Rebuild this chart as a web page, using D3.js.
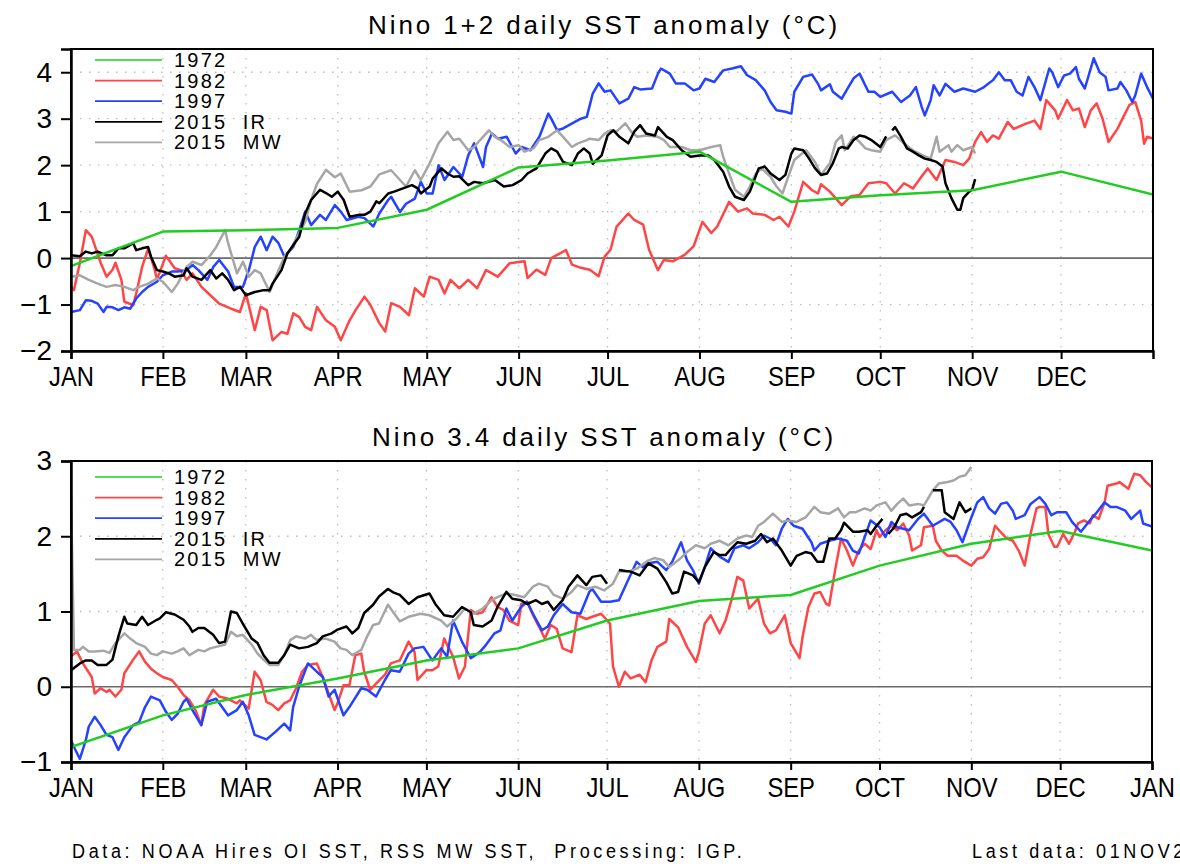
<!DOCTYPE html>
<html lang="en">
<head>
<meta charset="UTF-8">
<title>Nino daily SST anomaly</title>
<style>
  body { margin: 0; background: #fff; }
  svg text { font-family: "Liberation Sans", Arial, sans-serif; fill: #000; }
</style>
</head>
<body>
<script src="https://d3js.org/d3.v7.min.js"></script>
<script>
// ---- data (day of year, anomaly degC); null = gap in record ----
var monthNames  = ['JAN','FEB','MAR','APR','MAY','JUN','JUL','AUG','SEP','OCT','NOV','DEC','JAN'];
var monthStarts = [0, 31, 59, 90, 120, 151, 181, 212, 243, 273, 304, 334, 365];
var seriesNames = ['1972', '1982', '1997', '2015  IR', '2015  MW'];
var seriesColors = ['#22cc22', '#ff4545', '#2442ff', '#000000', '#a6a6a6'];
var drawOrder = [1, 2, 4, 3, 0];

var n12_1972 = [[0,-0.17],[31,0.57],[59,0.6],[90,0.65],[120,1.04],[151,1.95],[181,2.1],[212,2.29],[243,1.21],[273,1.35],[304,1.46],[334,1.86],[365,1.37]];
var n12_1982 = [[0,-0.62],[1,-0.69],[3,-0.1],[5,0.6],[7,0.46],[10,-0.1],[12,-0.4],[14,-0.25],[15,-0.1],[17,-0.47],[18,-0.94],[21,-1.01],[22,-0.76],[24,-0.19],[26,0.2],[28,-0.2],[29,-0.45],[30,-0.3],[32,0.05],[35,-0.22],[37,-0.26],[39,-0.47],[41,-0.33],[44,-0.62],[47,-0.8],[50,-0.98],[54,-1.09],[57,-1.16],[59,-0.76],[62,-1.55],[64,-1.05],[66,-1.12],[68,-1.77],[71,-1.59],[73,-1.63],[75,-1.19],[77,-1.27],[79,-1.48],[81,-1.55],[83,-1.05],[86,-1.34],[89,-1.48],[91,-1.77],[94,-1.34],[96,-1.12],[99,-0.83],[101,-1.01],[104,-1.4],[106,-1.58],[108,-0.97],[111,-1.05],[114,-1.23],[116,-0.65],[119,-0.83],[121,-0.4],[124,-0.47],[126,-0.76],[128,-0.47],[131,-0.65],[134,-0.47],[137,-0.65],[140,-0.26],[144,-0.4],[148,-0.11],[153,-0.07],[154,-0.43],[157,-0.25],[160,-0.36],[162,0],[167,0.17],[169,-0.14],[172,-0.21],[175,-0.25],[178,-0.39],[180,0.03],[182,0.18],[184,0.67],[188,0.96],[190,0.82],[193,0.72],[195,0.18],[198,-0.26],[200,-0.04],[203,-0.07],[207,0.07],[210,0.25],[213,0.78],[216,0.54],[218,0.68],[222,1.21],[225,1.0],[228,1.07],[230,0.96],[234,0.93],[237,0.82],[239,0.89],[242,0.68],[244,1.0],[247,1.64],[250,1.46],[252,1.39],[253,1.59],[256,1.43],[260,1.14],[263,1.33],[266,1.36],[269,1.61],[273,1.64],[275,1.61],[278,1.39],[281,1.61],[284,1.5],[287,1.76],[289,1.93],[292,1.68],[295,2.11],[298,2.07],[301,2.0],[303,2.14],[305,2.5],[307,2.71],[309,2.5],[311,2.64],[313,2.57],[316,2.93],[318,2.78],[322,2.89],[325,2.96],[327,2.78],[329,3.4],[332,3.18],[333,3.0],[336,3.4],[338,3.18],[340,3.22],[342,2.82],[344,3.18],[346,3.33],[348,3.0],[350,2.5],[353,2.78],[355,3.04],[357,3.29],[359,3.36],[361,2.96],[362,2.46],[363,2.61],[365,2.57]];
var n12_1997 = [[0,-1.16],[3,-1.12],[5,-0.91],[7,-0.92],[9,-0.98],[11,-1.16],[12,-1.05],[14,-1.06],[16,-1.12],[18,-1.06],[20,-1.09],[22,-0.87],[24,-0.73],[26,-0.62],[29,-0.51],[31,-0.37],[34,-0.29],[36,-0.29],[39,-0.26],[41,-0.15],[43,-0.26],[46,-0.47],[48,-0.19],[50,-0.04],[53,-0.29],[55,-0.62],[58,-0.62],[60,-0.26],[62,0.24],[64,0.46],[66,0.17],[68,0.46],[70,0.32],[72,0.03],[75,0.24],[77,0.6],[79,1.0],[81,0.71],[84,0.93],[86,0.82],[89,1.14],[91,1.0],[93,0.82],[97,0.89],[99,0.86],[102,0.68],[104,0.96],[107,1.25],[108,1.32],[111,0.99],[113,1.17],[116,1.28],[118,1.64],[120,1.39],[122,1.39],[124,2.0],[126,1.68],[129,1.96],[132,1.75],[134,2.21],[136,2.47],[139,1.96],[140,2.39],[142,2.68],[144,2.57],[147,2.61],[150,2.25],[152,2.39],[155,2.32],[158,2.61],[161,3.11],[162,3.0],[164,2.75],[166,2.79],[170,2.93],[172,3.0],[174,3.04],[176,3.54],[178,3.76],[180,3.58],[182,3.61],[185,3.33],[188,3.43],[190,3.68],[192,3.63],[196,3.65],[198,3.97],[199,4.08],[202,3.97],[204,3.76],[207,3.76],[210,3.61],[212,3.65],[214,3.86],[217,3.79],[220,4.04],[223,4.08],[226,4.13],[228,3.94],[231,3.83],[234,3.61],[236,3.36],[238,3.18],[241,3.15],[243,3.11],[244,3.58],[247,3.9],[250,3.95],[252,3.75],[253,3.61],[256,3.74],[257,3.58],[260,3.43],[262,3.65],[264,3.87],[266,3.97],[269,3.58],[271,3.58],[273,3.47],[277,3.58],[280,3.36],[283,3.5],[285,3.68],[287,3.25],[288,3.07],[290,3.4],[291,3.72],[293,3.5],[295,3.75],[298,3.58],[301,3.65],[305,3.58],[308,3.68],[311,3.83],[313,4.0],[315,3.83],[317,3.83],[319,3.58],[321,3.5],[323,3.9],[325,3.68],[327,3.4],[330,4.08],[331,4.0],[333,3.68],[335,3.93],[337,3.97],[339,4.11],[340,3.86],[342,3.65],[344,4.08],[345,4.3],[347,4.0],[349,3.9],[350,3.61],[353,3.65],[354,3.79],[356,3.61],[358,3.36],[359,3.5],[361,3.97],[363,3.68],[365,3.43]];
var n12_2015ir = [[0,0.06],[3,0.04],[5,0.14],[7,0.1],[9,0.14],[12,0.06],[14,0.06],[16,0.21],[18,0.21],[21,0.32],[22,0.17],[24,0.21],[26,0.24],[27,0.03],[29,-0.26],[31,-0.29],[33,-0.33],[35,-0.4],[38,-0.37],[39,-0.22],[41,-0.4],[44,-0.47],[47,-0.26],[49,-0.44],[51,-0.33],[53,-0.47],[55,-0.69],[57,-0.62],[59,-0.8],[62,-0.73],[65,-0.69],[67,-0.69],[68,-0.55],[71,-0.26],[73,0.1],[75,0.28],[77,0.46],[79,0.96],[81,1.25],[84,1.47],[86,1.4],[88,1.32],[90,1.43],[92,1.25],[94,0.89],[97,0.93],[99,0.93],[101,1.0],[103,1.22],[104,1.18],[107,1.39],[109,1.43],[112,1.5],[115,1.57],[117,1.5],[118,1.39],[121,1.54],[122,1.71],[125,1.93],[127,1.82],[129,1.75],[131,1.76],[134,1.57],[136,1.64],[139,1.61],[143,1.68],[146,1.54],[149,1.57],[152,1.68],[154,1.82],[157,1.93],[160,2.25],[162,2.36],[164,2.29],[166,2.07],[169,2.0],[171,2.25],[173,2.36],[175,2.25],[176,2.03],[179,2.21],[181,2.64],[183,2.75],[185,2.61],[188,2.47],[190,2.72],[192,2.86],[194,2.68],[197,2.64],[198,2.82],[201,2.61],[203,2.54],[206,2.32],[209,2.18],[212,2.21],[215,2.21],[217,2.11],[220,1.86],[222,1.54],[224,1.32],[227,1.25],[229,1.43],[232,1.93],[234,1.97],[236,1.82],[239,1.68],[241,1.79],[243,2.25],[244,2.36],[247,2.32],[249,2.14],[251,1.93],[253,1.79],[255,1.82],[257,2.04],[259,2.36],[260,2.39],[262,2.36],[264,2.54],[266,2.64],[268,2.61],[270,2.54],[273,2.39],[275,2.62],null,[277,2.75],[278,2.82],[280,2.61],[282,2.36],[284,2.29],[286,2.21],[288,2.14],[290,2.11],[292,2.07],[294,1.97],[295,1.61],[297,1.29],[299,1.04],[300,1.04],[301,1.29],[303,1.43],[304,1.47],[305,1.7]];
var n12_2015mw = [[0,-0.4],[3,-0.37],[6,-0.47],[9,-0.55],[12,-0.62],[15,-0.58],[18,-0.62],[21,-0.69],[23,-0.62],[26,-0.55],[29,-0.44],[31,-0.51],[34,-0.73],[36,-0.55],[39,-0.19],[41,-0.08],[44,-0.15],[47,0.06],[49,0.24],[52,0.6],[53,0.32],[56,-0.33],[58,-0.08],[60,-0.4],[62,-0.26],[64,-0.33],[67,-0.73],[70,-0.26],[72,0.03],[74,0.17],[76,0.42],[79,0.78],[81,1.25],[83,1.6],[86,1.9],[89,1.74],[91,1.82],[94,1.43],[98,1.46],[101,1.54],[104,1.8],[108,1.89],[110,1.75],[113,1.54],[116,1.89],[118,1.68],[121,2.04],[124,2.47],[127,2.72],[129,2.54],[131,2.57],[134,2.32],[136,2.39],[138,2.54],[141,2.75],[143,2.61],[145,2.54],[148,2.39],[151,2.43],[153,2.29],[156,2.36],[158,2.54],[161,2.61],[164,2.75],[166,2.61],[169,2.39],[171,2.47],[174,2.54],[175,2.57],[178,2.54],[180,2.68],[182,2.75],[184,2.72],[187,2.9],[189,2.72],[191,2.61],[194,2.64],[198,2.61],[200,2.54],[202,2.39],[206,2.39],[209,2.32],[212,2.32],[216,2.39],[219,2.43],[220,2.18],[222,1.82],[224,1.47],[227,1.32],[229,1.54],[231,1.82],[233,1.93],[236,1.75],[238,1.54],[240,1.39],[242,1.76],[244,2.11],[246,2.22],[248,2.32],[251,2.07],[253,1.79],[256,2.04],[258,2.5],[260,2.64],[261,2.32],[264,2.61],[266,2.5],[268,2.36],[270,2.32],[273,2.29],[275,2.54],[278,2.64],[281,2.47],[284,2.32],[287,2.22],[290,2.14],[292,2.61],[293,2.29],[296,2.43],[297,2.29],[299,2.43],[301,2.32],[304,2.39],[305,2.25]];

var n34_1972 = [[0,-0.8],[31,-0.38],[59,-0.11],[90,0.11],[120,0.35],[151,0.51],[181,0.88],[212,1.14],[243,1.22],[273,1.61],[304,1.9],[334,2.07],[365,1.81]];
var n34_1982 = [[0,0.4],[2,0.47],[4,0.31],[7,0.13],[8,-0.09],[10,-0.02],[12,-0.07],[13,-0.04],[15,-0.13],[17,-0.04],[18,0.18],[21,0.36],[23,0.47],[25,0.33],[27,0.24],[29,0.18],[31,0.13],[34,0.09],[36,0],[38,-0.11],[40,-0.18],[42,-0.31],[44,-0.51],[45,-0.24],[48,-0.04],[50,-0.13],[53,-0.16],[56,-0.22],[57,-0.18],[60,-0.29],[62,0.2],[64,0.09],[66,-0.2],[68,-0.24],[70,-0.31],[72,-0.22],[74,-0.18],[76,-0.02],[78,0.2],[80,0.29],[83,0.31],[85,0.13],[87,-0.09],[89,-0.31],[90,-0.22],[92,0.02],[94,0.02],[96,0.42],[98,0.44],[99,0.2],[101,-0.04],[103,0.04],[106,0.16],[108,0.31],[111,0.35],[114,0.6],[116,0.46],[117,0.09],[120,0.22],[122,0.22],[124,0.27],[126,0.64],[129,0.4],[131,0.11],[133,0.27],[135,1.02],[137,0.97],[139,0.99],[142,1.19],[144,1.06],[146,1.02],[148,0.88],[151,0.82],[152,1.1],[154,1.13],[156,0.95],[158,0.8],[160,0.64],[162,0.82],[164,0.77],[166,0.51],[169,0.46],[171,0.95],[174,0.9],[176,0.93],[179,0.97],[182,0.84],[183,0.27],[185,0.0],[187,0.2],[189,0.11],[192,0.16],[194,0.06],[196,0.35],[198,0.53],[201,0.6],[202,0.9],[205,0.79],[208,0.53],[211,0.33],[212,0.46],[214,0.84],[216,0.95],[219,0.71],[221,0.88],[223,1.15],[225,1.46],[227,1.41],[229,1.04],[232,1.17],[234,0.84],[236,0.71],[238,0.75],[241,0.95],[243,0.58],[246,0.38],[247,0.66],[249,1.06],[251,1.24],[253,1.26],[255,1.1],[256,1.08],[258,1.55],[260,1.97],[262,1.81],[264,1.61],[266,1.81],[268,1.9],[270,1.83],[272,2.08],[273,1.99],[275,2.08],[277,2.14],[279,2.08],[281,2.17],[283,2.01],[284,1.81],[287,1.88],[288,2.12],[291,2.14],[292,1.94],[294,1.81],[296,1.74],[299,1.74],[301,1.68],[304,1.61],[306,1.7],[308,1.72],[310,1.83],[312,2.14],[314,2.05],[316,1.97],[318,1.94],[320,1.81],[322,1.61],[324,2.03],[326,2.37],[327,2.39],[329,2.39],[330,2.03],[332,1.86],[333,1.86],[335,2.03],[337,1.9],[339,2.06],[340,2.17],[342,2.21],[344,2.17],[345,2.28],[347,2.23],[349,2.45],[350,2.67],[353,2.7],[354,2.72],[357,2.63],[359,2.83],[361,2.81],[363,2.72],[365,2.65]];
var n34_1997 = [[0,-0.71],[1,-0.8],[3,-0.96],[5,-0.71],[6,-0.53],[8,-0.4],[10,-0.51],[12,-0.64],[14,-0.67],[16,-0.84],[18,-0.67],[21,-0.51],[23,-0.47],[25,-0.27],[27,-0.13],[30,-0.18],[32,-0.33],[34,-0.44],[36,-0.36],[38,-0.2],[39,-0.16],[41,-0.31],[44,-0.51],[46,-0.2],[49,-0.16],[51,-0.27],[53,-0.38],[56,-0.31],[58,-0.2],[60,-0.38],[62,-0.64],[66,-0.7],[69,-0.6],[72,-0.49],[74,-0.58],[75,-0.27],[77,0],[80,0.31],[83,0.2],[85,0.13],[87,-0.13],[89,-0.04],[92,-0.38],[94,-0.27],[98,-0.02],[100,-0.04],[103,-0.13],[106,0.09],[108,0.22],[111,0.2],[114,0.44],[116,0.51],[119,0.53],[122,0.35],[125,0.51],[127,0.4],[129,0.88],[132,0.6],[135,0.38],[138,0.46],[140,0.55],[143,0.71],[145,0.75],[147,1.04],[149,0.88],[152,1.06],[154,1.13],[156,0.97],[159,0.75],[161,0.8],[163,0.95],[166,1.1],[169,0.99],[172,0.97],[175,1.26],[176,1.3],[179,1.13],[182,1.13],[185,1.15],[188,1.41],[191,1.66],[193,1.59],[195,1.64],[198,1.66],[201,1.55],[203,1.66],[206,1.92],[208,1.68],[210,1.55],[212,1.37],[214,1.59],[216,1.84],[219,1.73],[222,1.66],[224,1.84],[227,1.88],[229,1.84],[232,1.92],[234,2.01],[236,1.97],[238,1.88],[240,2.1],[242,2.23],[244,2.14],[247,2.1],[250,1.92],[251,1.81],[253,1.9],[256,1.94],[259,1.97],[262,1.94],[264,1.81],[266,1.77],[268,1.99],[270,2.21],[273,2.12],[275,1.99],[277,2.19],[279,2.12],[281,2.1],[283,2.08],[286,2.23],[288,2.3],[291,2.14],[295,2.23],[297,2.19],[299,2.08],[301,1.92],[304,2.25],[306,2.45],[308,2.52],[310,2.37],[312,2.3],[314,2.43],[316,2.45],[318,2.34],[319,2.23],[322,2.28],[324,2.43],[327,2.52],[329,2.43],[331,2.28],[333,2.32],[336,2.32],[338,2.19],[341,2.06],[344,2.21],[346,2.3],[349,2.45],[351,2.39],[353,2.39],[356,2.34],[358,2.23],[361,2.34],[362,2.17],[365,2.13]];
var n34_2015ir = [[0,0.22],[3,0.31],[5,0.35],[7,0.35],[9,0.29],[12,0.29],[14,0.36],[16,0.67],[18,0.93],[19,0.84],[22,0.82],[24,0.93],[26,0.82],[29,0.89],[30,0.91],[32,0.99],[35,0.96],[38,0.89],[40,0.8],[41,0.73],[43,0.78],[45,0.78],[48,0.69],[50,0.58],[52,0.6],[54,1.0],[56,0.98],[58,0.84],[61,0.64],[63,0.58],[65,0.42],[67,0.32],[70,0.32],[72,0.42],[74,0.56],[77,0.51],[80,0.53],[83,0.58],[85,0.67],[88,0.71],[90,0.76],[93,0.8],[95,0.71],[97,0.78],[99,0.98],[102,1.09],[104,1.2],[107,1.3],[109,1.25],[111,1.22],[114,1.1],[117,1.19],[121,1.24],[123,1.1],[126,0.95],[129,0.93],[132,1.06],[135,0.99],[136,0.82],[139,0.8],[142,0.88],[144,1.06],[147,1.26],[149,1.17],[152,1.15],[154,1.1],[157,1.15],[159,1.1],[161,1.13],[163,1.02],[166,1.15],[168,1.33],[171,1.48],[174,1.35],[176,1.46],[179,1.48],[181,1.37],null,[185,1.55],[189,1.53],[192,1.48],[195,1.64],[198,1.57],[201,1.39],[203,1.24],[205,1.26],[207,1.53],[210,1.48],[212,1.39],[214,1.59],[217,1.79],[219,1.75],[221,1.75],[223,1.84],[225,1.92],[228,1.9],[231,1.94],[233,2.03],[235,1.92],[237,1.97],[240,1.81],[243,1.61],[245,1.74],[248,1.79],[250,1.77],[252,1.66],[254,1.66],[256,1.97],[258,1.97],[260,2.08],[261,2.18],[264,2.06],[266,2.06],[269,2.08],[270,2.03],[272,2.14],[274,2.23],null,[276,2.03],[278,2.12],[280,2.28],[282,2.3],[284,2.25],[287,2.32],[288,2.39],null,[291,2.61],[294,2.61],[295,2.32],[298,2.23],[300,2.45],[302,2.32],[304,2.37]];
var n34_2015mw = [[0,2.55],[1,0.49],[3,0.49],[4,0.53],[6,0.47],[8,0.47],[11,0.48],[13,0.45],[15,0.58],[18,0.71],[20,0.64],[22,0.58],[25,0.53],[27,0.44],[29,0.42],[31,0.47],[34,0.44],[36,0.47],[38,0.51],[40,0.42],[43,0.49],[45,0.47],[47,0.51],[49,0.53],[52,0.56],[54,0.73],[56,0.67],[58,0.69],[61,0.56],[63,0.44],[65,0.36],[67,0.29],[70,0.29],[72,0.42],[74,0.62],[76,0.67],[79,0.64],[81,0.69],[83,0.62],[86,0.64],[89,0.6],[91,0.51],[93,0.49],[95,0.42],[98,0.49],[100,0.67],[102,0.82],[104,0.84],[107,1.09],[109,0.98],[111,0.87],[114,0.93],[118,0.97],[121,0.95],[125,0.88],[127,0.8],[130,0.9],[133,1.04],[136,0.97],[139,1.04],[142,1.15],[144,1.19],[147,1.24],[150,1.22],[153,1.19],[156,1.33],[158,1.37],[161,1.33],[163,1.22],[166,1.17],[169,1.26],[171,1.35],[174,1.3],[177,1.33],[180,1.28],[183,1.37],[185,1.53],[188,1.53],[191,1.57],[195,1.68],[197,1.71],[200,1.68],[202,1.59],[205,1.68],[208,1.79],[211,1.88],[214,1.84],[216,1.9],[219,1.94],[222,1.88],[225,1.97],[228,2.01],[230,1.99],[232,2.14],[234,2.19],[237,2.3],[240,2.19],[242,2.21],[245,2.19],[248,2.25],[251,2.39],[253,2.32],[256,2.3],[259,2.37],[261,2.25],[263,2.32],[265,2.32],[268,2.37],[270,2.34],[272,2.41],[275,2.45],[277,2.34],[279,2.43],[281,2.5],[283,2.41],[286,2.43],[288,2.41],[291,2.61],[293,2.7],[296,2.72],[298,2.74],[300,2.79],[302,2.81],[304,2.92]];

var n12_title = 'Nino 1+2 daily SST anomaly (\u00B0C)';
var n34_title = 'Nino 3.4 daily SST anomaly (\u00B0C)';
var n12_yTicks = [-2, -1, 0, 1, 2, 3, 4];
var n34_yTicks = [-1, 0, 1, 2, 3];
var footerLeft = 'Data: NOAA Hires OI SST, RSS MW SST,  Processing: IGP.';
var footerRight = 'Last data: 01NOV2015';

// ---- layout ----
var width = 1180, height = 867;

var panels = [
    { title: n12_title, series: [n12_1972, n12_1982, n12_1997, n12_2015ir, n12_2015mw],
      yDomain: [-2, 4.5], yTicks: n12_yTicks, monthLabels: 12,
      left: 71, right: 1153, top: 49, bottom: 351, legendTop: 60 },
    { title: n34_title, series: [n34_1972, n34_1982, n34_1997, n34_2015ir, n34_2015mw],
      yDomain: [-1, 3], yTicks: n34_yTicks, monthLabels: 13,
      left: 71, right: 1152, top: 461, bottom: 762, legendTop: 477 }
];

var svg = d3.select('body').append('svg')
            .attr('width', width)
            .attr('height', height);

svg.append('rect').attr('width', width).attr('height', height).attr('fill', '#fff');

function drawPanel(p, k) {
    var x = d3.scaleLinear().domain([0, 365]).range([p.left, p.right]);
    var y = d3.scaleLinear().domain(p.yDomain).range([p.bottom, p.top]);
    var g = svg.append('g').attr('class', 'panel-' + k);

    // dotted grid
    g.selectAll('line.vgrid')
     .data(monthStarts.slice(1, 12))
     .enter().append('line')
     .attr('x1', function(d) { return x(d); })
     .attr('x2', function(d) { return x(d); })
     .attr('y1', p.top).attr('y2', p.bottom)
     .attr('stroke', '#bdbdbd').attr('stroke-width', 1.3)
     .attr('stroke-dasharray', '1.5,7.5');
    g.selectAll('line.hgrid')
     .data(p.yTicks.filter(function(d) { return d !== 0; }))
     .enter().append('line')
     .attr('x1', p.left).attr('x2', p.right)
     .attr('y1', function(d) { return y(d); })
     .attr('y2', function(d) { return y(d); })
     .attr('stroke', '#bdbdbd').attr('stroke-width', 1.3)
     .attr('stroke-dasharray', '1.5,7.5');

    // zero line
    g.append('line')
     .attr('x1', p.left).attr('x2', p.right)
     .attr('y1', y(0)).attr('y2', y(0))
     .attr('stroke', '#6a6a6a').attr('stroke-width', 1.6);

    // series
    g.append('clipPath').attr('id', 'clip' + k)
     .append('rect')
     .attr('x', p.left).attr('y', p.top)
     .attr('width', p.right - p.left).attr('height', p.bottom - p.top);

    var line = d3.line()
                 .defined(function(d) { return d !== null; })
                 .x(function(d) { return x(d[0]); })
                 .y(function(d) { return y(d[1]); });

    drawOrder.forEach(function(i) {
        g.append('path')
         .attr('clip-path', 'url(#clip' + k + ')')
         .attr('d', line(p.series[i]))
         .attr('fill', 'none')
         .attr('stroke', seriesColors[i])
         .attr('stroke-width', 2.5)
         .attr('stroke-linejoin', 'round');
    });

    // frame
    g.append('rect')
     .attr('x', p.left).attr('y', p.top)
     .attr('width', p.right - p.left).attr('height', p.bottom - p.top)
     .attr('fill', 'none').attr('stroke', '#000').attr('stroke-width', 2);

    // axes
    var yAxis = d3.axisLeft(y).tickValues(p.yTicks).tickSize(10).tickPadding(9)
                  .tickFormat(d3.format('d'));
    var ya = g.append('g').attr('transform', 'translate(' + p.left + ',0)').call(yAxis);
    ya.select('.domain').attr('stroke-width', 2.5);
    ya.selectAll('.tick line').attr('stroke-width', 2);
    ya.selectAll('text').attr('font-size', 28).attr('font-family', null);

    var xAxis = d3.axisBottom(x).tickValues(monthStarts.slice(0, p.monthLabels))
                  .tickSize(8).tickPadding(7)
                  .tickFormat(function(d) { return monthNames[monthStarts.indexOf(d)]; });
    var xa = g.append('g').attr('transform', 'translate(0,' + p.bottom + ')').call(xAxis);
    xa.select('.domain').attr('stroke-width', 2.5);
    xa.selectAll('.tick line').attr('stroke-width', 2);
    xa.selectAll('text').attr('font-size', 28).attr('font-family', null)
      .attr('transform', 'scale(0.85,1)');

    // legend
    var leg = g.selectAll('g.legend')
               .data(seriesNames)
               .enter().append('g')
               .attr('transform', function(d, i) { return 'translate(0,' + (p.legendTop + i * 20.6) + ')'; });
    leg.append('line')
       .attr('x1', 95).attr('x2', 162)
       .attr('stroke', function(d, i) { return seriesColors[i]; })
       .attr('stroke-width', 1.7);
    leg.append('text')
       .attr('x', 174).attr('y', 7)
       .attr('font-size', 20)
       .style('letter-spacing', '2.2px')
       .style('white-space', 'pre')
       .text(function(d) { return d; });

    // title
    g.append('text')
     .attr('x', 604).attr('y', p.top - 15)
     .attr('text-anchor', 'middle')
     .attr('font-size', 26)
     .style('letter-spacing', '2.9px')
     .text(p.title);
}

panels.forEach(drawPanel);

svg.append('g')
   .attr('transform', 'translate(72,858) scale(0.86,1)')
   .append('text')
   .attr('font-size', 21)
   .style('letter-spacing', '4.2px')
   .style('white-space', 'pre')
   .text(footerLeft);
svg.append('g')
   .attr('transform', 'translate(972,858) scale(0.86,1)')
   .append('text')
   .attr('font-size', 21)
   .style('letter-spacing', '4.2px')
   .text(footerRight);
</script>
</body>
</html>
